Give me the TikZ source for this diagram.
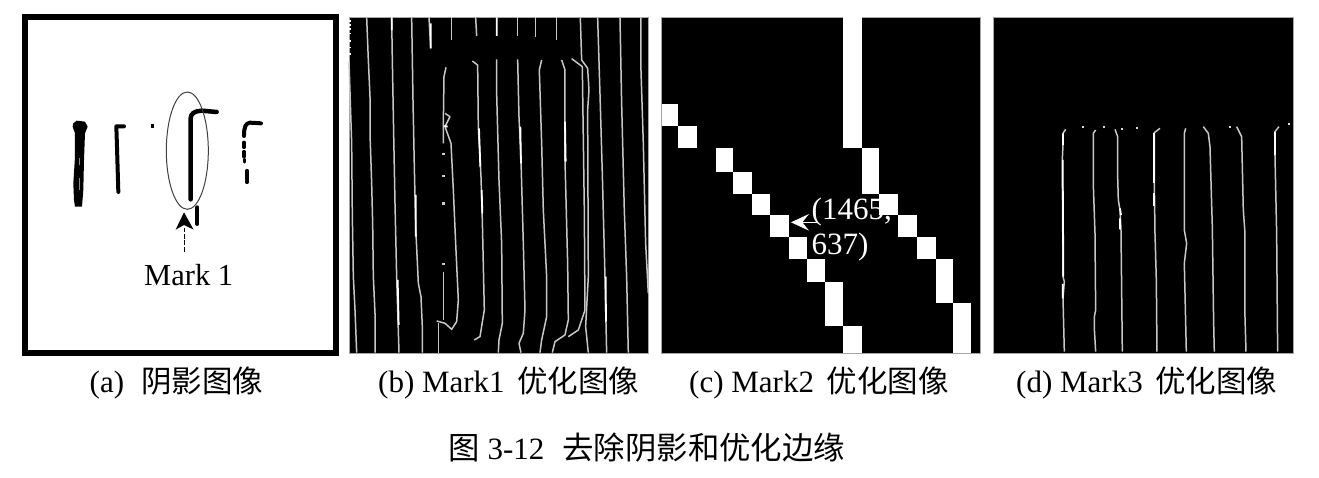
\documentclass[tikz,border=0pt]{standalone}
\usepackage{fontspec}
\setmainfont{Liberation Serif}
\newfontfamily\cjk{Noto Sans CJK SC}
\newcommand{\cjkcap}[1]{{\cjk\fontsize{30.5}{31}\selectfont #1}}
\newcommand{\cjktitle}[1]{{\cjk\fontsize{31.4}{32}\selectfont #1}}
\tikzset{
  captxt/.style={anchor=base west,inner sep=0pt,font=\fontsize{31}{32}\selectfont},
  marktxt/.style={anchor=base west,inner sep=0pt,font=\fontsize{30.5}{32}\selectfont},
  whitetxt/.style={anchor=base west,inner sep=0pt,text=white,font=\fontsize{31}{32}\selectfont},
  frameimg/.style={draw=black,line width=6pt,fill=white},
  panel/.style={fill=black,draw=black!35,line width=.6pt},
  ink/.style={draw=black,line cap=round,line join=round},
  edgeline/.style={draw=black!22,line width=1.5pt,line join=round},
  brightline/.style={draw=white,line width=1.8pt},
  speck/.style={fill=white,draw=none},
  px/.style={fill=white,draw=none},
  zoomed/.style={x=.3333pt,y=-.3333pt}
}
\begin{document}
\begin{tikzpicture}[x=1pt,y=-1pt]
\useasboundingbox (0,0) rectangle (1319,477);
\fill[white] (0,0) rectangle (1319,477);

% --- panel a
\draw[frameimg] (24.5,17.3) rectangle (335.5,353.3);
\begin{scope}[xshift=20pt,yshift=-10pt,zoomed]
  \fill[black] (160,340)--(170,332)--(195,335)--(203,350)--(195,370)--(192,450)--(190,540)--(186,590)--(165,590)--(162,570)--(160,520)--(165,440)--(165,370)--(158,350)--cycle;
  \draw[black!45,line width=1pt] (180,445)--(180,465) (178,505)--(178,540);
  \draw[ink,line width=4pt] (312,349)--(289,349)--(291,410)--(295,546);
  \fill[black] (393,342) rectangle (402,355);
  \draw[ink,line width=4.5pt] (512,568)--(512,325) .. controls (512,310) and (525,303) .. (545,302) -- (590,306);
  \draw[ink,line width=4pt] (532,592)--(532,642);
  \draw[ink,line width=4pt] (723,340)--(690,338) .. controls (678,340) and (672,348) .. (672,378);
  \draw[ink,line width=3.5pt] (672,397)--(672,412) (672,425)--(672,440) (673,448)--(673,456);
  \draw[ink,line width=3.5pt] (681,482)--(681,517);
  \draw[black!75,line width=1pt] (502,422) ellipse [x radius=63,y radius=176];
  \coordinate (m1tail) at (492,725);
  \coordinate (m1neck) at (492,655);
  \coordinate (m1tip) at (492,607);
  \fill[black] (m1tip)--(521,659)--(492,645)--(467,659)--cycle;
  \draw[black,line width=.7pt,dash pattern=on 5pt off 1.5pt] (m1tail)--(m1neck);
\end{scope}
\node[marktxt] (markone) at (144,285.5) {Mark 1};

% --- panel b
\fill[panel] (349,17) rectangle (648,353);
\begin{scope}[xshift=345pt,yshift=-10pt,zoomed]
  \foreach \yy in {30,42,55,68,90,110,130} \fill[speck] (4,\yy) rectangle (17,\yy+5);
  \fill[speck] (3,22) rectangle (11,150);
  \draw[edgeline] (12,155)--(20,400)--(22,620)--(25,800)--(30,900)--(35,1028);
  \draw[edgeline] (65,22)--(70,150)--(75,260)--(75,370)--(80,520)--(83,640)--(85,800)--(90,910)--(90,1028);
  \draw[edgeline] (140,22)--(142,150)--(146,370)--(150,580)--(155,800)--(162,1028);
  \draw[edgeline] (200,22)--(204,270)--(208,470)--(212,650)--(220,820)--(228,860)--(232,950)--(232,1028);
  \draw[edgeline] (252,22)--(257,115);
  \draw[edgeline] (320,22)--(320,90);
  \draw[edgeline] (392,22)--(395,78);
  \draw[edgeline] (455,22)--(455,78);
  \draw[edgeline] (518,22)--(518,78);
  \draw[edgeline] (572,22)--(572,80);
  \draw[edgeline] (635,22)--(635,90);
  \draw[edgeline] (303,172)--(297,200)--(295,340)--(295,400);
  \foreach \yy in {432,498,580,762} \fill[black!20] (292,\yy-4) rectangle (299,\yy+4);
  \draw[edgeline] (296,785)--(296,930);
  \draw[edgeline] (300,310)--(315,320)--(300,350)--(318,400)--(325,540)--(332,700)--(340,870)--(335,935)--(320,958)--(300,940)--(275,933);
  \draw[edgeline] (382,153)--(398,165)--(400,350)--(408,500)--(412,630)--(418,900)--(405,980)--(388,990);
  \draw[edgeline] (455,148)--(455,250)--(462,510)--(470,700)--(472,940)--(462,990)--(460,1028);
  \draw[edgeline] (518,148)--(522,320)--(528,450)--(535,700)--(540,900)--(535,970)--(522,1000)--(528,1028);
  \draw[edgeline] (590,150)--(583,180)--(590,400)--(595,600)--(605,800)--(605,920)--(590,990)--(585,1028);
  \draw[edgeline] (650,150)--(660,180)--(660,450)--(668,760)--(670,930)--(660,975)--(630,995)--(622,1028);
  \draw[edgeline] (680,146)--(712,170)--(718,600)--(720,900)--(700,960)--(670,980);
  \draw[edgeline] (706,22)--(710,150)--(728,175)--(732,240)--(728,300)--(730,800)--(722,950)--(730,1028);
  \draw[edgeline] (758,22)--(765,250)--(772,490)--(780,800)--(785,1028);
  \draw[edgeline] (825,22)--(830,280)--(838,600)--(845,800)--(850,1028);
  \draw[edgeline] (888,22)--(888,180)--(895,400)--(902,700)--(910,850);
  \draw[edgeline] (280,940)--(280,1028);
  \draw[brightline] (140,22)--(140,60) (158,810)--(161,945) (212,555)--(212,680);
  \draw[brightline] (402,355)--(406,470) (410,540)--(412,610) (526,350)--(528,460) (660,335)--(662,455);
  \draw[brightline] (782,800)--(783,935) (455,22)--(455,78) (257,40)--(257,115) (298,348)--(308,350);
\end{scope}

% --- panel c
\fill[panel] (661,17) rectangle (980,353);
\begin{scope}[xshift=655pt,yshift=-10pt,zoomed]
  \fill[px] (565,22) rectangle (620,415);
  \fill[px] (20,282) rectangle (70,348);
  \fill[px] (70,348) rectangle (127,415);
  \fill[px] (182,415) rectangle (233,485);
  \fill[px] (233,485) rectangle (290,552);
  \fill[px] (290,552) rectangle (346,615);
  \fill[px] (346,615) rectangle (402,682);
  \fill[px] (402,682) rectangle (455,748);
  \fill[px] (455,748) rectangle (510,815);
  \fill[px] (510,815) rectangle (565,948);
  \fill[px] (565,948) rectangle (620,1030);
  \fill[px] (620,415) rectangle (673,552);
  \fill[px] (673,552) rectangle (730,615);
  \fill[px] (730,615) rectangle (786,682);
  \fill[px] (786,682) rectangle (842,748);
  \fill[px] (842,748) rectangle (893,878);
  \fill[px] (893,878) rectangle (948,1030);
  \coordinate (ptail) at (485,637);
  \coordinate (pneck) at (440,637);
  \coordinate (ptip) at (408,637);
  \fill[white] (ptip)--(462,612)--(442,637)--(462,662)--cycle;
  \draw[white,line width=1pt] (ptail)--(pneck);
\end{scope}
\node[whitetxt] (coordone) at (811.5,219) {(1465,};
\node[whitetxt] (coordtwo) at (811.5,254.5) {637)};

% --- panel d
\fill[panel] (993,17) rectangle (1293,353);
\begin{scope}[xshift=985pt,yshift=-100pt,zoomed]
  \foreach \xx/\yy in {294/81,358/81,410/86,455/85,735/81,911/72} \fill[black!15] (\xx-3,\yy-3) rectangle (\xx+3,\yy+3);
  \draw[edgeline] (242,88)--(234,100)--(234,135)--(232,178)--(234,530)--(238,545)--(234,595)--(238,755);
  \draw[edgeline] (332,90)--(325,100)--(325,255)--(330,400)--(332,630)--(328,650)--(328,685)--(332,755);
  \draw[edgeline] (390,88)--(398,110)--(398,230)--(400,300)--(405,330)--(408,390)--(412,755);
  \draw[edgeline] (525,85)--(508,98)--(508,250)--(510,400)--(514,540)--(516,755);
  \draw[edgeline] (602,85)--(598,100)--(598,390)--(605,430)--(598,490)--(604,755);
  \draw[edgeline] (655,80)--(670,100)--(675,140)--(682,380)--(686,670)--(688,755);
  \draw[edgeline] (755,80)--(770,110)--(775,330)--(780,400)--(780,650)--(783,755);
  \draw[edgeline] (882,80)--(870,95)--(870,165)--(875,400)--(878,755);
  \draw[brightline] (234,100)--(234,135) (233,180)--(235,530) (233,552)--(233,595);
  \draw[brightline] (405,325)--(408,345) (405,355)--(405,388);
  \draw[brightline] (508,98)--(508,250) (506,280)--(506,318) (870,95)--(870,165);
\end{scope}

% --- captions
\node[captxt] (capa) at (89.5,392) {(a)\hspace{17pt}\cjkcap{阴影图像}};
\node[captxt] (capb) at (378,392) {(b) Mark1\hspace{12.5pt}\cjkcap{优化图像}};
\node[captxt] (capc) at (689,392) {(c) Mark2\hspace{12.5pt}\cjkcap{优化图像}};
\node[captxt] (capd) at (1016,392) {(d) Mark3\hspace{12.5pt}\cjkcap{优化图像}};
\node[captxt] (fig) at (448,459.5) {\cjktitle{图}\hspace{8pt}3-12\hspace{18pt}\cjktitle{去除阴影和优化边缘}};
\end{tikzpicture}
\end{document}
